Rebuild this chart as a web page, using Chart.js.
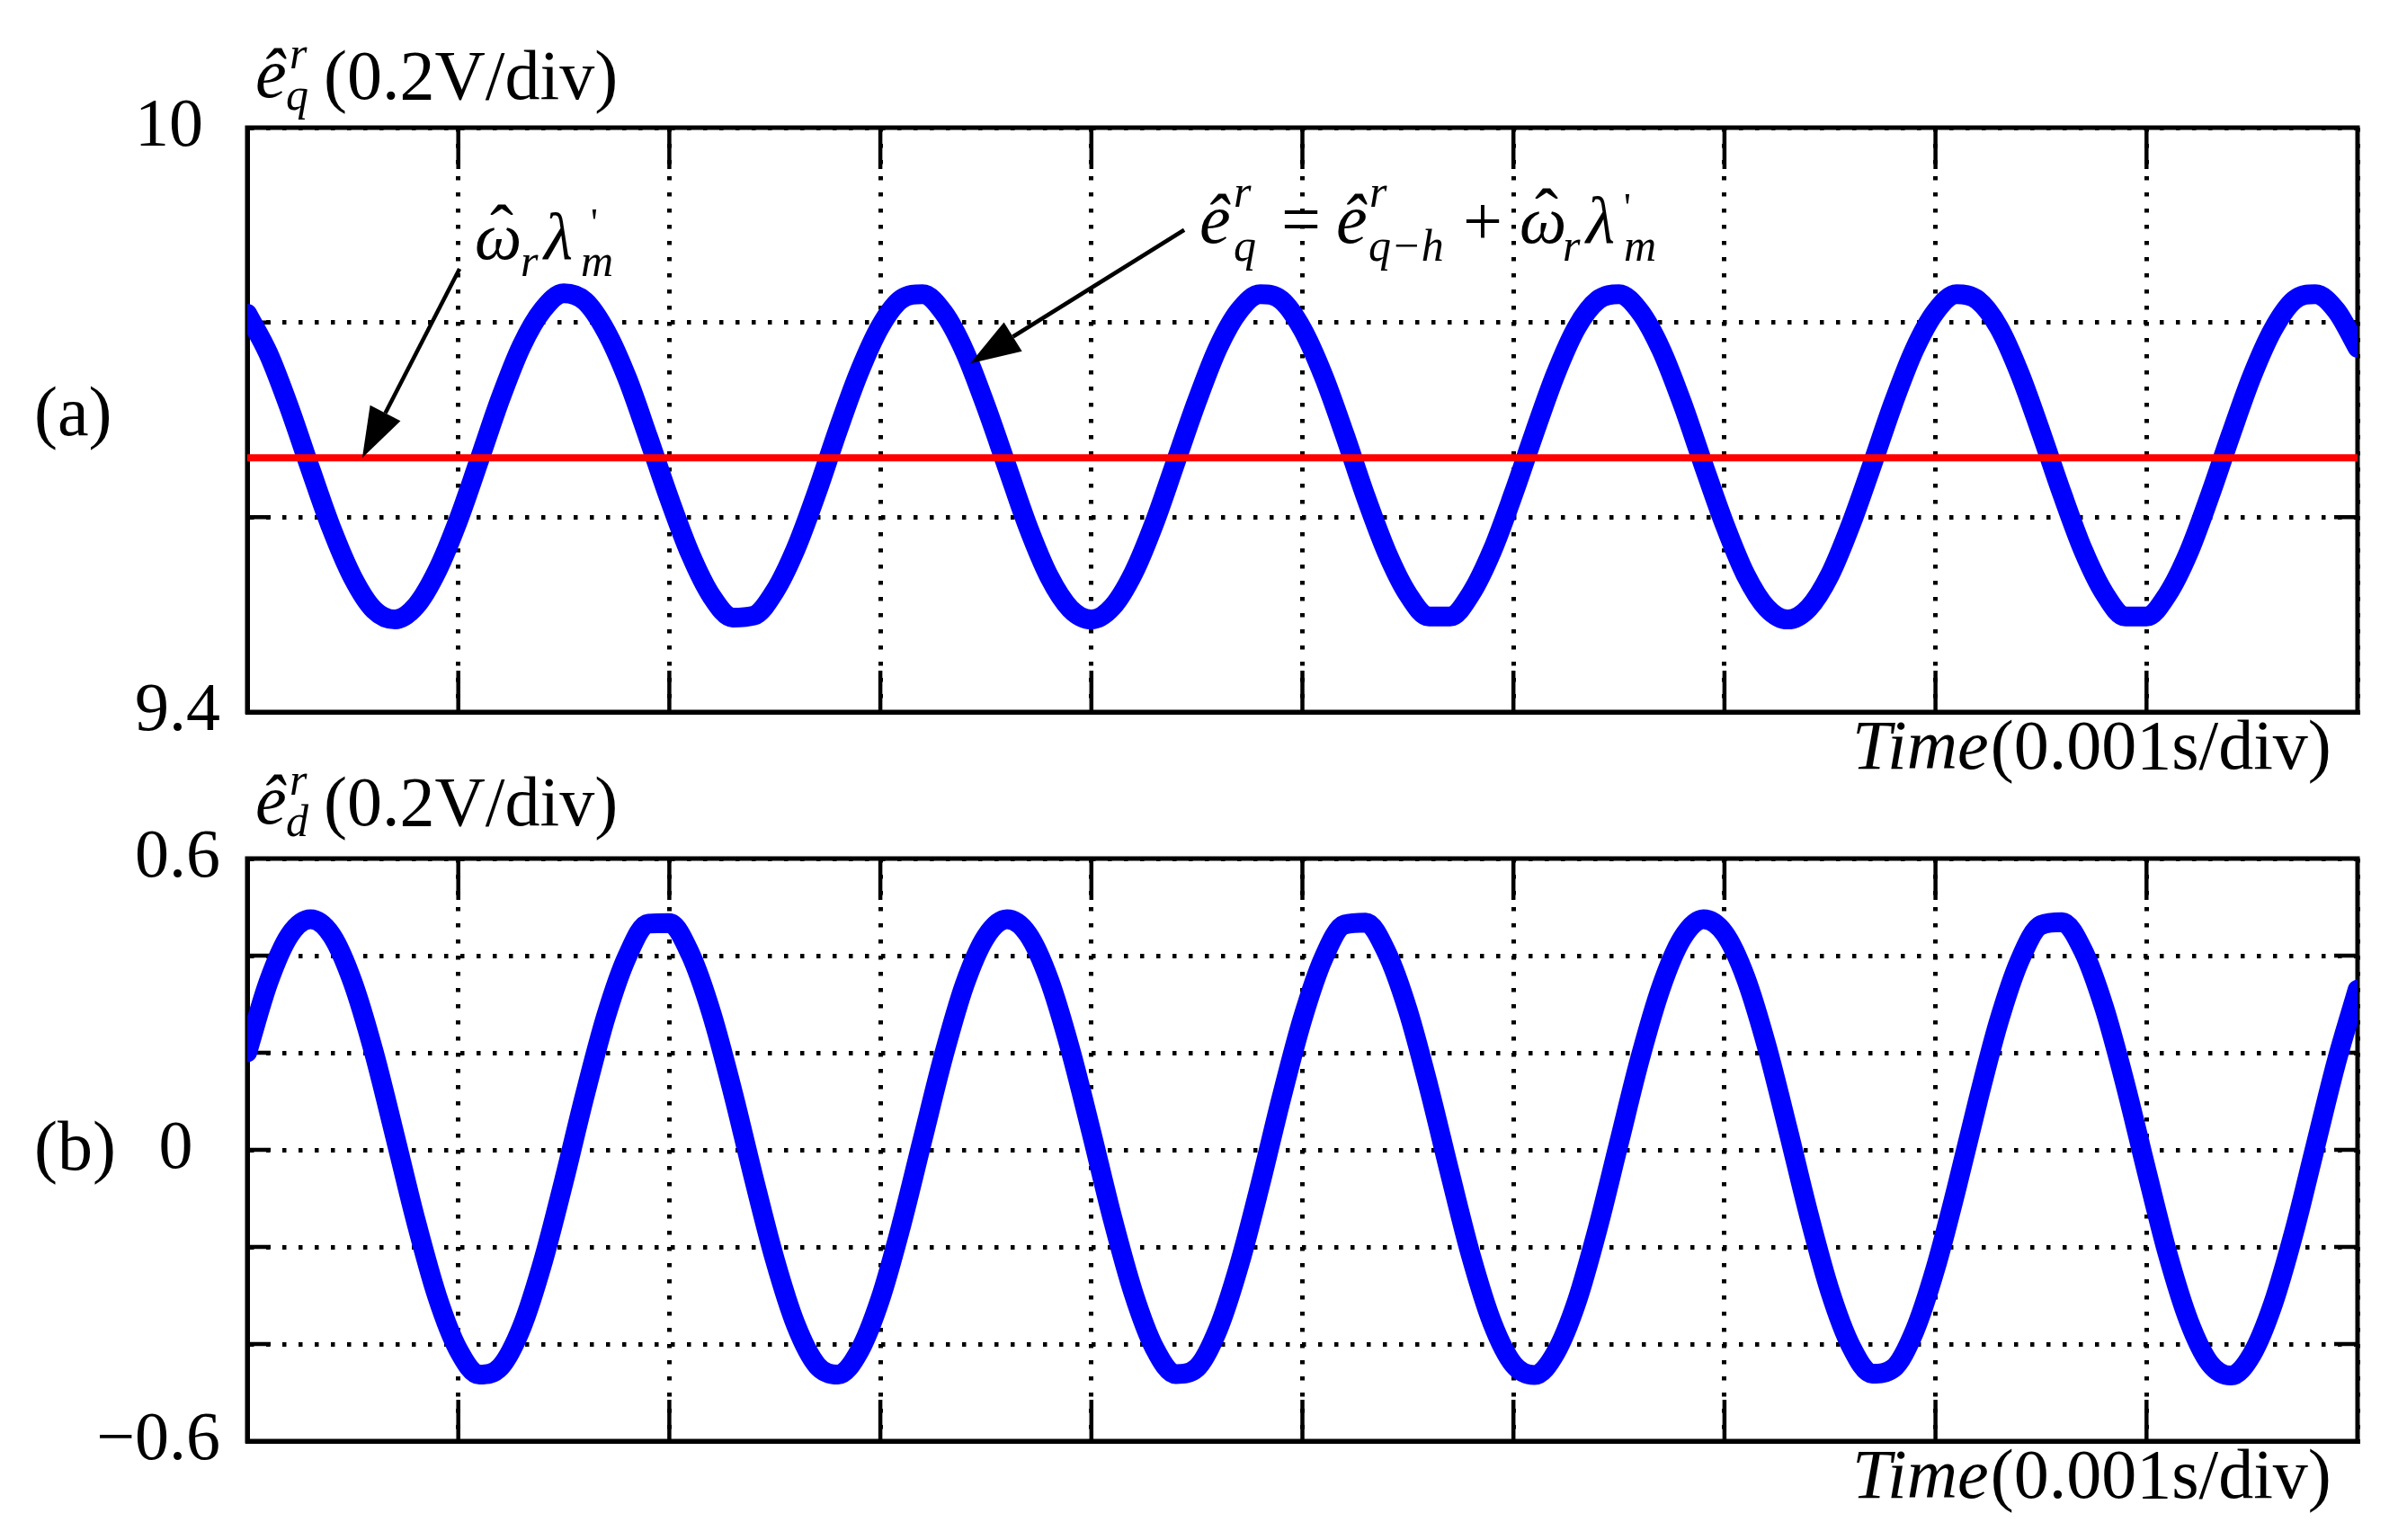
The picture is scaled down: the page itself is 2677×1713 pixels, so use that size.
<!DOCTYPE html>
<html lang="en">
<head>
  <meta charset="UTF-8">
  <title>Estimated back-EMF</title>
  <script src="https://cdn.jsdelivr.net/npm/chart.js"></script>
  <style>
    body, html {
      margin: 0;
      padding: 0;
      background: #fff;
    }
    .panel {
      position: absolute;
      left: 0;
      top: 0;
      width: 2677px;
      height: 1713px;
    }
  </style>
</head>
<body>
  <div class="panel"><canvas id="graficoQ"></canvas></div>
  <div class="panel"><canvas id="graficoD"></canvas></div>
  <script>
    // time axis, ms (0.001 s/div)
    const timeMs = [
      0, 0.1, 0.2, 0.3, 0.4, 0.5, 0.6, 0.7, 0.8, 0.9,
      1, 1.1, 1.2, 1.3, 1.4, 1.5, 1.6, 1.7, 1.8, 1.9,
      2, 2.1, 2.2, 2.3, 2.4, 2.5, 2.6, 2.7, 2.8, 2.9,
      3, 3.1, 3.2, 3.3, 3.4, 3.5, 3.6, 3.7, 3.8, 3.9,
      4, 4.1, 4.2, 4.3, 4.4, 4.5, 4.6, 4.7, 4.8, 4.9,
      5, 5.1, 5.2, 5.3, 5.4, 5.5, 5.6, 5.7, 5.8, 5.9,
      6, 6.1, 6.2, 6.3, 6.4, 6.5, 6.6, 6.7, 6.8, 6.9,
      7, 7.1, 7.2, 7.3, 7.4, 7.5, 7.6, 7.7, 7.8, 7.9,
      8, 8.1, 8.2, 8.3, 8.4, 8.5, 8.6, 8.7, 8.8, 8.9,
      9, 9.1, 9.2, 9.3, 9.4, 9.5, 9.6, 9.7, 9.8, 9.9,
      10
    ];

    // (a) q-axis estimated EMF, V
    const eqHat = [
      9.809, 9.768, 9.712, 9.649, 9.588, 9.538, 9.505, 9.495, 9.509, 9.545,
      9.597, 9.659, 9.722, 9.776, 9.813, 9.830, 9.822, 9.791, 9.743, 9.682,
      9.619, 9.562, 9.519, 9.497, 9.499, 9.524, 9.568, 9.626, 9.690, 9.749,
      9.796, 9.824, 9.829, 9.810, 9.770, 9.714, 9.652, 9.590, 9.539, 9.506,
      9.495, 9.508, 9.543, 9.595, 9.657, 9.719, 9.774, 9.812, 9.829, 9.823,
      9.793, 9.745, 9.685, 9.621, 9.564, 9.521, 9.498, 9.498, 9.522, 9.566,
      9.624, 9.687, 9.747, 9.795, 9.823, 9.829, 9.811, 9.772, 9.717, 9.654,
      9.593, 9.541, 9.507, 9.495, 9.507, 9.541, 9.593, 9.654, 9.717, 9.772,
      9.811, 9.829, 9.823, 9.795, 9.747, 9.687, 9.624, 9.566, 9.522, 9.498,
      9.498, 9.521, 9.564, 9.622, 9.685, 9.745, 9.793, 9.823, 9.829, 9.812,
      9.774
    ];

    // omega_r * lambda_m level (red)
    const refTime = [0, 10];
    const refLevel = [9.661, 9.661];

    // (b) d-axis estimated EMF, V
    const edHat = [
      0.201, 0.345, 0.442, 0.475, 0.442, 0.345, 0.201, 0.028, -0.148, -0.302,
      -0.412, -0.463, -0.447, -0.366, -0.232, -0.065, 0.113, 0.275, 0.398, 0.466,
      0.467, 0.403, 0.281, 0.120, -0.058, -0.226, -0.361, -0.444, -0.463, -0.415,
      -0.307, -0.154, 0.021, 0.194, 0.341, 0.439, 0.475, 0.444, 0.350, 0.207,
      0.036, -0.141, -0.296, -0.409, -0.462, -0.449, -0.370, -0.238, -0.072, 0.106,
      0.269, 0.395, 0.464, 0.468, 0.406, 0.287, 0.127, -0.050, -0.220, -0.357,
      -0.442, -0.464, -0.418, -0.313, -0.161, 0.014, 0.188, 0.335, 0.436, 0.475,
      0.446, 0.355, 0.214, 0.043, -0.134, -0.291, -0.405, -0.461, -0.450, -0.374,
      -0.244, -0.079, 0.099, 0.264, 0.391, 0.463, 0.469, 0.410, 0.292, 0.134,
      -0.043, -0.214, -0.352, -0.440, -0.465, -0.421, -0.317, -0.168, 0.007, 0.181,
      0.330
    ];

    const labeledQ = [10, 9.4];
    const labeledD = [0.6, 0, -0.6];

    const SERIF = '"Liberation Serif", "Times New Roman", serif';
    Chart.defaults.font.family = SERIF;
    Chart.defaults.color = "#000";

    const pts = (xs, ys) => xs.map((x, i) => ({ x, y: ys[i] }));

    function fmt(v) {
      if (Math.abs(v) < 1e-9) return "0\u2009\u2009";   // the zero sits a bit left in the original
      const s = String(Math.abs(+v.toFixed(2)));
      return v < 0 ? "\u2212" + s : s;
    }

    // solid frame and short inward ticks, like the scope plot
    const framePlugin = {
      id: "frame",
      beforeDatasetsDraw(chart) {
        const { ctx, chartArea: a, scales: { x, y } } = chart;
        ctx.save();
        ctx.strokeStyle = "#000";
        ctx.lineWidth = 4.5;
        ctx.beginPath();
        x.ticks.forEach(t => {
          const px = x.getPixelForValue(t.value);
          if (px <= a.left + 2 || px >= a.right - 2) return;
          ctx.moveTo(px, a.top); ctx.lineTo(px, a.top + 46);
          ctx.moveTo(px, a.bottom); ctx.lineTo(px, a.bottom - 46);
        });
        y.ticks.forEach(t => {
          const py = y.getPixelForValue(t.value);
          if (py <= a.top + 2 || py >= a.bottom - 2) return;
          ctx.moveTo(a.left, py); ctx.lineTo(a.left + 26, py);
          ctx.moveTo(a.right, py); ctx.lineTo(a.right - 26, py);
        });
        ctx.stroke();
        ctx.lineWidth = 5;
        ctx.strokeRect(a.left, a.top, a.width, a.height);
        ctx.restore();
      }
    };

    function txt(ctx, s, x, y, size, italic) {
      ctx.font = (italic ? "italic " : "") + size + "px " + SERIF;
      ctx.fillText(s, x, y);
      return x + ctx.measureText(s).width;
    }

    function hat(ctx, cx, y, size) {
      ctx.save();
      ctx.textAlign = "center";
      ctx.font = size + "px " + SERIF;
      ctx.fillText("\u02C6", cx, y);
      ctx.restore();
    }

    function arrow(ctx, x0, y0, x1, y1) {
      const ang = Math.atan2(y1 - y0, x1 - x0);
      const len = 56, half = 19;
      const bx = x1 - len * Math.cos(ang), by = y1 - len * Math.sin(ang);
      ctx.lineWidth = 4.5;
      ctx.beginPath();
      ctx.moveTo(x0, y0);
      ctx.lineTo(bx, by);
      ctx.stroke();
      ctx.beginPath();
      ctx.moveTo(x1, y1);
      ctx.lineTo(bx + half * Math.sin(ang), by - half * Math.cos(ang));
      ctx.lineTo(bx - half * Math.sin(ang), by + half * Math.cos(ang));
      ctx.closePath();
      ctx.fill();
    }

    function timeLabel(ctx, x, y) {
      const x1 = txt(ctx, "Time", x, y, 78, true);
      txt(ctx, "(0.001s/div)", x1 + 2, y, 78, false);
    }

    const labelsQ = {
      id: "labelsQ",
      afterDraw(chart) {
        const { ctx, scales: { x, y } } = chart;
        ctx.save();
        ctx.fillStyle = "#000";
        ctx.strokeStyle = "#000";
        ctx.textBaseline = "alphabetic";
        // axis title
        txt(ctx, "\u00EA", 284, 108, 78, true);
        txt(ctx, "r", 322, 76, 50, true);
        txt(ctx, "q", 318, 122, 50, true);
        txt(ctx, "(0.2V/div)", 360, 110, 78, false);
        txt(ctx, "(a)", 38, 484, 78, false);
        timeLabel(ctx, 2060, 855);

        // omega_r lambda'_m label + arrow to red line
        txt(ctx, "\u03C9", 528, 288, 74, true);
        hat(ctx, 558, 282, 78);
        txt(ctx, "r", 579, 307, 50, true);
        txt(ctx, "\u03BB", 605, 288, 74, true);
        txt(ctx, "'", 657, 262, 44, false);
        txt(ctx, "m", 646, 307, 50, true);
        arrow(ctx, x.getPixelForValue(1.006), y.getPixelForValue(9.855),
                   x.getPixelForValue(0.545), y.getPixelForValue(refLevel[0]));

        // e_q = e_{q-h} + omega_r lambda'_m
        txt(ctx, "\u00EA", 1334, 270, 78, true);
        txt(ctx, "r", 1372, 230, 50, true);
        txt(ctx, "q", 1372, 290, 50, true);
        txt(ctx, "=", 1425, 270, 78, false);
        txt(ctx, "\u00EA", 1486, 270, 78, true);
        txt(ctx, "r", 1523, 230, 50, true);
        txt(ctx, "q\u2212h", 1522, 290, 50, true);
        txt(ctx, "+", 1627, 272, 78, false);
        txt(ctx, "\u03C9", 1690, 270, 74, true);
        hat(ctx, 1720, 264, 78);
        txt(ctx, "r", 1738, 290, 50, true);
        txt(ctx, "\u03BB", 1764, 270, 74, true);
        txt(ctx, "'", 1806, 245, 44, false);
        txt(ctx, "m", 1806, 290, 50, true);
        arrow(ctx, x.getPixelForValue(4.44), y.getPixelForValue(9.895),
                   x.getPixelForValue(3.426), y.getPixelForValue(9.758));
        ctx.restore();
      }
    };

    const labelsD = {
      id: "labelsD",
      afterDraw(chart) {
        const { ctx } = chart;
        ctx.save();
        ctx.fillStyle = "#000";
        txt(ctx, "\u00EA", 284, 916, 78, true);
        txt(ctx, "r", 322, 884, 50, true);
        txt(ctx, "d", 318, 930, 50, true);
        txt(ctx, "(0.2V/div)", 360, 918, 78, false);
        txt(ctx, "(b)", 38, 1301, 78, false);
        timeLabel(ctx, 2060, 1666);
        ctx.restore();
      }
    };

    function baseOptions(pad, yMin, yMax, labeled, yWidth, crossAlign, tickPad) {
      return {
        responsive: true,
        maintainAspectRatio: false,
        animation: false,
        events: [],
        layout: { padding: pad },
        plugins: { legend: { display: false }, tooltip: { enabled: false } },
        scales: {
          x: {
            type: "linear",
            min: 0,
            max: 10,
            ticks: { display: false, stepSize: 1 },
            grid: { color: "#000", lineWidth: 5, drawTicks: false },
            border: { display: true, color: "#000", width: 5, dash: [4.5, 13.5] },
            afterFit: s => { s.height = 0; }
          },
          y: {
            min: yMin,
            max: yMax,
            ticks: {
              stepSize: 0.2,
              autoSkip: false,
              crossAlign,
              padding: tickPad,
              font: { size: 76, family: SERIF },
              color: "#000",
              callback: v => labeled.some(l => Math.abs(l - v) < 1e-6) ? fmt(v) : ""
            },
            grid: { color: "#000", lineWidth: 5, drawTicks: false },
            border: { display: true, color: "#000", width: 5, dash: [4.5, 13.5] },
            afterFit: s => { s.width = yWidth; }
          }
        }
      };
    }

    new Chart(document.getElementById("graficoQ").getContext("2d"), {
      type: "line",
      data: {
        datasets: [
          {
            data: pts(refTime, refLevel),
            borderColor: "#ff0000",
            borderWidth: 8,
            pointRadius: 0,
            order: 0
          },
          {
            data: pts(timeMs, eqHat),
            borderColor: "#0000ff",
            borderWidth: 22,
            borderCapStyle: "round",
            borderJoinStyle: "round",
            cubicInterpolationMode: "monotone",
            pointRadius: 0,
            order: 1
          }
        ]
      },
      options: baseOptions({ left: 150, top: 142, right: 55, bottom: 921 },
        9.4, 10, labeledQ, 125, "far", 0),
      plugins: [framePlugin, labelsQ]
    });

    new Chart(document.getElementById("graficoD").getContext("2d"), {
      type: "line",
      data: {
        datasets: [
          {
            data: pts(timeMs, edHat),
            borderColor: "#0000ff",
            borderWidth: 22,
            borderCapStyle: "round",
            borderJoinStyle: "round",
            cubicInterpolationMode: "monotone",
            pointRadius: 0
          }
        ]
      },
      options: baseOptions({ left: 0, top: 955, right: 55, bottom: 110 },
        -0.6, 0.6, labeledD, 275, "near", 30),
      plugins: [framePlugin, labelsD]
    });
  </script>
</body>
</html>
